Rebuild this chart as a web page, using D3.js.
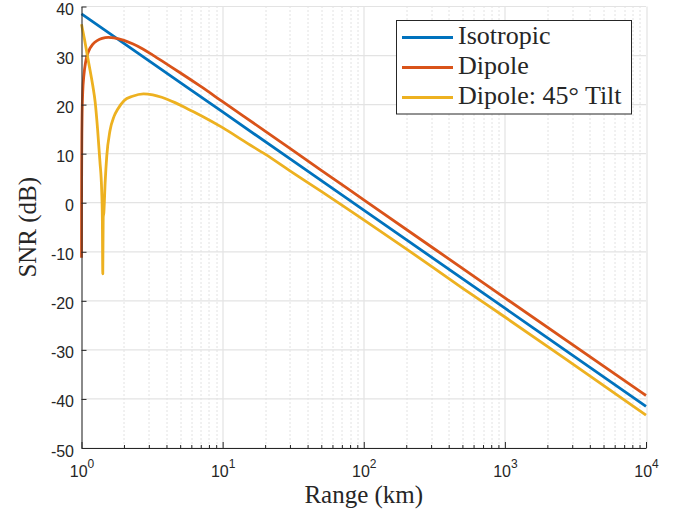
<!DOCTYPE html>
<html>
<head>
    <meta charset="utf-8">
    <title>SNR vs Range</title>
    <script src="https://cdnjs.cloudflare.com/ajax/libs/d3/7.8.5/d3.min.js"></script>
    <style>
        body { margin: 0; background: #fff; }
        .tick text { font-family: "Liberation Sans", Arial, sans-serif; font-size: 16px; fill: #262626; }
        .axis-title, .legend text { font-family: "Liberation Serif", "Times New Roman", serif; fill: #262626; }
    </style>
</head>
<body>
    <div id="chart"></div>

    <script>
        // Series: range in km, SNR in dB
        const isoRange = [1, 10, 100, 1000, 10000];
        const isoSnr = [38.5, 18.5, -1.5, -21.5, -41.5];

        const dipRange = [1, 1.001, 1.003, 1.006, 1.01, 1.02, 1.04, 1.07, 1.1, 1.15, 1.2, 1.3, 1.4, 1.55, 1.7, 2, 2.3, 2.7, 3.2, 4, 5, 7, 10, 20, 50, 100, 1000, 10000];
        const dipSnr = [-11.2, 0, 8, 14, 18, 22.5, 26, 28.7, 30.2, 31.5, 32.3, 33.1, 33.5, 33.7, 33.6, 33.1, 32.4, 31.4, 30.1, 28.3, 26.5, 23.7, 20.6, 14.6, 6.6, 0.6, -19.4, -39.3];

        const tiltRange = [1, 1.05, 1.1, 1.15, 1.2, 1.25, 1.3, 1.35, 1.39, 1.405, 1.415, 1.425, 1.44, 1.47, 1.51, 1.59, 1.7, 1.8, 2.0, 2.3, 2.75, 3.2, 3.7, 4.6, 5.5, 7, 10, 15, 20, 30, 50, 70, 100, 200, 500, 1000, 3000, 10000];
        const tiltSnr = [36.4, 33.3, 30, 27, 24, 20.5, 15, 8.5, 2.5, -3, -14.5, -3, -2, 4, 9.5, 14.6, 17.6, 19, 20.8, 21.7, 22.2, 22.0, 21.5, 20.4, 19.3, 17.8, 15.3, 12.1, 9.9, 6.5, 2.3, -0.5, -3.5, -9.4, -17.4, -23.3, -32.8, -43.3];

        const seriesNames = ['Isotropic', 'Dipole', 'Dipole: 45\u00B0 Tilt'];
        const seriesColors = ['#0072BD', '#D95319', '#EDB120'];

        const yTicks = [-50, -40, -30, -20, -10, 0, 10, 20, 30, 40];
        const xMajor = [1, 10, 100, 1000, 10000];
        const xExp = ['0', '1', '2', '3', '4'];

        const width = 683;
        const height = 514;
        const margin = {top: 6.5, right: 37, bottom: 66, left: 81.5};
        const plotW = width - margin.left - margin.right;
        const plotH = height - margin.top - margin.bottom;

        const svg = d3.select('#chart')
            .append('svg')
            .attr('width', width)
            .attr('height', height);

        const x = d3.scaleLog().domain([1, 10000]).range([0, plotW]);
        const y = d3.scaleLinear().domain([-50, 40]).range([plotH, 0]);

        const g = svg.append('g')
            .attr('transform', `translate(${margin.left},${margin.top})`);

        // minor x grid (dotted)
        const xMinor = [];
        for (let d = 1; d < 10000; d *= 10) {
            for (let k = 2; k <= 9; k++) xMinor.push(d * k);
        }
        g.append('g').selectAll('line')
            .data(xMinor)
            .join('line')
            .attr('x1', d => Math.round(x(d)) + 0.5)
            .attr('x2', d => Math.round(x(d)) + 0.5)
            .attr('y1', 0)
            .attr('y2', plotH)
            .attr('stroke', '#c4c4c4')
            .attr('stroke-width', 1)
            .attr('stroke-dasharray', '1,3');

        // major grid
        g.append('g').selectAll('line')
            .data(xMajor)
            .join('line')
            .attr('x1', d => Math.round(x(d)) + 0.5)
            .attr('x2', d => Math.round(x(d)) + 0.5)
            .attr('y1', 0)
            .attr('y2', plotH)
            .attr('stroke', '#e3e3e3')
            .attr('stroke-width', 1.2);

        g.append('g').selectAll('line')
            .data(yTicks)
            .join('line')
            .attr('x1', 0)
            .attr('x2', plotW)
            .attr('y1', d => y(d))
            .attr('y2', d => y(d))
            .attr('stroke', '#e3e3e3')
            .attr('stroke-width', 1.2);

        // curves
        svg.append('clipPath').attr('id', 'clip')
            .append('rect').attr('x', -2).attr('y', -2).attr('width', plotW + 4).attr('height', plotH + 4);

        const line = d3.line()
            .x(d => x(d[0]))
            .y(d => y(d[1]))
            .curve(d3.curveMonotoneX);

        const series = [
            d3.zip(isoRange, isoSnr),
            d3.zip(dipRange, dipSnr),
            d3.zip(tiltRange, tiltSnr)
        ];

        g.append('g')
            .attr('clip-path', 'url(#clip)')
            .selectAll('path')
            .data(series)
            .join('path')
            .attr('d', line)
            .attr('fill', 'none')
            .attr('stroke', (d, i) => seriesColors[i])
            .attr('stroke-width', 2.8)
            .attr('stroke-linejoin', 'round');

        // y axis
        const yAxis = g.append('g')
            .call(d3.axisLeft(y).tickValues(yTicks).tickSizeInner(-5).tickSizeOuter(0)
                .tickPadding(7.5).tickFormat(d => String(d)));
        yAxis.select('.domain').attr('stroke', '#262626');
        yAxis.selectAll('.tick line').attr('stroke', '#262626');
        yAxis.selectAll('.tick text').attr('dy', '0.5em');

        // x axis (minor ticks, then major with labels)
        const xMinorAxis = g.append('g')
            .attr('transform', `translate(0,${plotH})`)
            .call(d3.axisBottom(x).tickValues(xMinor).tickSizeInner(-3).tickSizeOuter(0).tickFormat(''));
        xMinorAxis.select('.domain').remove();
        xMinorAxis.selectAll('.tick line').attr('stroke', '#262626');

        const xAxis = g.append('g')
            .attr('transform', `translate(0,${plotH})`)
            .call(d3.axisBottom(x).tickValues(xMajor).tickSizeInner(-6).tickSizeOuter(0).tickFormat(''));
        xAxis.select('.domain').attr('stroke', '#262626');
        xAxis.selectAll('.tick line').attr('stroke', '#262626');
        xAxis.selectAll('.tick text').remove();
        xAxis.selectAll('.tick')
            .append('text')
            .attr('y', 29)
            .attr('text-anchor', 'middle')
            .each(function(d, i) {
                const t = d3.select(this);
                t.append('tspan').text('10');
                t.append('tspan').attr('dy', -9).attr('font-size', '12px').text(xExp[i]);
            });

        // axis titles
        svg.append('text')
            .attr('class', 'axis-title')
            .attr('x', margin.left + plotW / 2)
            .attr('y', 503)
            .attr('text-anchor', 'middle')
            .attr('font-size', '25px')
            .text('Range (km)');

        svg.append('text')
            .attr('class', 'axis-title')
            .attr('transform', `translate(36,${margin.top + plotH / 2}) rotate(-90)`)
            .attr('text-anchor', 'middle')
            .attr('font-size', '25px')
            .text('SNR (dB)');

        // legend
        const legend = svg.append('g').attr('class', 'legend');
        legend.append('rect')
            .attr('x', 396.5).attr('y', 20.5)
            .attr('width', 235).attr('height', 93.5)
            .attr('fill', '#fff')
            .attr('stroke', '#262626')
            .attr('stroke-width', 1);

        const items = legend.selectAll('g.item')
            .data(seriesNames)
            .join('g')
            .attr('class', 'item')
            .attr('transform', (d, i) => `translate(0,${37.5 + i * 30})`);
        items.append('line')
            .attr('x1', 402).attr('x2', 453)
            .attr('stroke', (d, i) => seriesColors[i])
            .attr('stroke-width', 2.8);
        items.append('text')
            .attr('x', 458)
            .attr('y', 6)
            .attr('font-size', '26px')
            .text(d => d);
    </script>
</body>
</html>
